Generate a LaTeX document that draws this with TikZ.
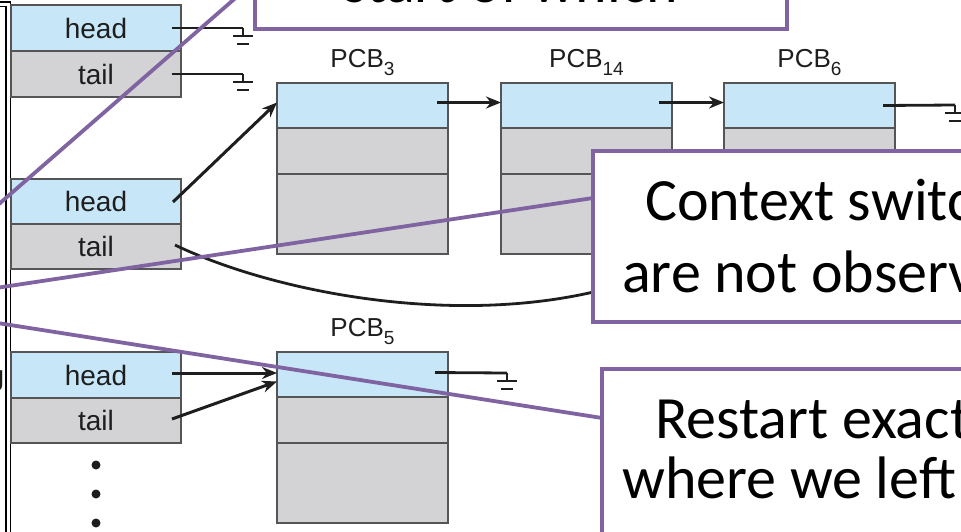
\documentclass[tikz,border=0pt]{standalone}
\usepackage{fontspec}
\usetikzlibrary{arrows.meta,calc}
\newfontfamily\figfont{Liberation Sans}
\newfontfamily\notefont{Carlito}
\definecolor{pcbblue}{RGB}{199,231,248}
\definecolor{pcbgray}{RGB}{211,211,213}
\definecolor{cellline}{RGB}{85,85,85}
\definecolor{inkdark}{RGB}{30,30,30}
\definecolor{notepurple}{RGB}{128,100,162}

\tikzset{
  cell/.style={draw=cellline, line width=1.8pt, inner sep=0pt, outer sep=0pt,
    minimum width=170pt, text height=20pt, text depth=0pt,
    font=\fontsize{28}{30}\selectfont\figfont, text=inkdark},
  bluecell/.style={cell, fill=pcbblue},
  graycell/.style={cell, fill=pcbgray},
  ptr/.style={line width=3pt, draw=inkdark, -{Stealth[length=15pt,width=12pt]}},
  wire/.style={line width=2.8pt, draw=inkdark},
  pcblabel/.style={font=\fontsize{26}{28}\selectfont\figfont, anchor=base,
    inner sep=0pt, text=inkdark},
  note/.style={draw=notepurple, line width=3.8pt, fill=white, inner sep=0pt, outer sep=0pt},
  notetext/.style={font=\fontsize{60}{72}\selectfont\notefont, anchor=base west, inner sep=0pt},
  leader/.style={draw=notepurple, line width=3.8pt},
  ground/.pic={\draw[wire] (0,0) -- (0,8) (-10,8) -- (10,8) (-6,16) -- (6,16);}
}
\newcommand{\pcbname}[1]{PCB\raisebox{-8pt}{\fontsize{19}{19}\selectfont #1}}

\begin{document}
\begin{tikzpicture}[x=1pt,y=-1pt]
\useasboundingbox (0,0) rectangle (961,531);
\clip (0,0) rectangle (961,531);

% double frame on the left
\draw[line width=1.4pt] (-5,2) -| (10.5,540);
\draw[line width=1.4pt] (-5,6.5) -| (6,540);
\node[font=\fontsize{28}{30}\selectfont\figfont, anchor=base east, inner sep=0pt, text=inkdark] (gfrag) at (4.5,385) {g};

% queue headers
\node[bluecell, minimum height=46pt] (q1h) at (96,28) {head};
\node[graycell, minimum height=46pt] (q1t) at (96,74) {tail};
\node[bluecell, minimum height=45pt] (q2h) at (96,201.5) {head};
\node[graycell, minimum height=45pt] (q2t) at (96,246.5) {tail};
\node[bluecell, minimum height=46pt] (q3h) at (96,375) {head};
\node[graycell, minimum height=45pt] (q3t) at (96,420.5) {tail};

% more queues follow
\foreach \y/\n in {465/d1,494/d2,523/d3}
  \fill[inkdark] (96,\y) circle (4.5pt) coordinate (\n);

% process control blocks
\foreach \nm/\cx/\ty in {p3/362.5/83, p14/586.5/83, p6/809.5/83, p5/362.5/352}{
  \node[bluecell, minimum width=171pt, minimum height=45pt] (\nm a) at (\cx,\ty+22.5) {};
  \node[graycell, minimum width=171pt, minimum height=46pt] (\nm b) at (\cx,\ty+68) {};
  \node[graycell, minimum width=171pt, minimum height=80pt] (\nm c) at (\cx,\ty+131) {};
}
\node[pcblabel] (l3) at (362.5,67) {\pcbname{3}};
\node[pcblabel] (l14) at (586.5,67) {\pcbname{14}};
\node[pcblabel] (l6) at (809.5,67) {\pcbname{6}};
\node[pcblabel] (l5) at (362.5,336) {\pcbname{5}};

% pointer origins and ground points
\coordinate (q1hp) at ([xshift=-9pt]q1h.east);
\coordinate (q1tp) at ([xshift=-9pt]q1t.east);
\coordinate (q2hp) at ([xshift=-8pt,yshift=-0.5pt]q2h.east);
\coordinate (q2tp) at ([xshift=-6pt,yshift=1.5pt]q2t.east);
\coordinate (q3hp) at ([xshift=-9pt,yshift=2pt]q3h.east);
\coordinate (q3tp) at ([xshift=-9pt,yshift=1.5pt]q3t.east);
\coordinate (p3p) at ([xshift=-11pt,yshift=3pt]p3a.east);
\coordinate (p14p) at ([xshift=-13pt,yshift=3pt]p14a.east);
\coordinate (p6p) at ([xshift=-12pt]p6a.east);
\coordinate (p5p) at ([xshift=-13pt,yshift=2pt]p5a.east);
\coordinate (g1) at (243,28);
\coordinate (g2) at (243,74);
\coordinate (g6) at (955,105);
\coordinate (g5) at (507,373);
\coordinate (tailend) at (680,262);

% null pointers
\draw[wire] (q1hp) -- (g1) pic {ground};
\draw[wire] (q1tp) -- (g2) pic {ground};
\draw[wire] (p6p) -- (g6) pic {ground};
\draw[wire] (p5p) -- (g5) pic {ground};

% links
\draw[ptr] (q2hp) -- ([yshift=3pt]p3a.west);
\draw[ptr] (p3p) -- (p3p -| p14a.west);
\draw[ptr] (p14p) -- (p14p -| p6a.west);
\draw[ptr] (q3hp) -- (q3hp -| p5a.west);
\draw[ptr] (q3tp) -- ([yshift=-7pt]p5a.west);
\draw[wire] (q2tp) .. controls (290,300) and (520,340) .. (tailend);

% callouts
\coordinate (focus) at (-117,305);
\node[note, minimum width=532pt, minimum height=96pt] (cb1) at (521,-19) {};
\node[note, minimum width=507pt, minimum height=171pt] (cb2) at (846.5,236.5) {};
\node[note, minimum width=498pt, minimum height=231pt] (cb3) at (851,484.5) {};
\draw[leader] (focus) -- (cb1.west);
\draw[leader] (focus) -- ([yshift=-47pt]cb2.north west);
\draw[leader] (focus) -- ([yshift=-49pt]cb3.north west);

\node[font=\fontsize{60}{72}\selectfont\notefont, anchor=base, inner sep=0pt] (t1) at (511,2) {start of which};
\node[notetext] (t2a) at (645,220) {Context switc};
\node[notetext] (t2b) at (622,292) {are not observ};
\node[notetext] (t3a) at (655,438) {Restart exact};
\node[notetext] (t3b) at (622,498) {where we left};
\end{tikzpicture}
\end{document}
